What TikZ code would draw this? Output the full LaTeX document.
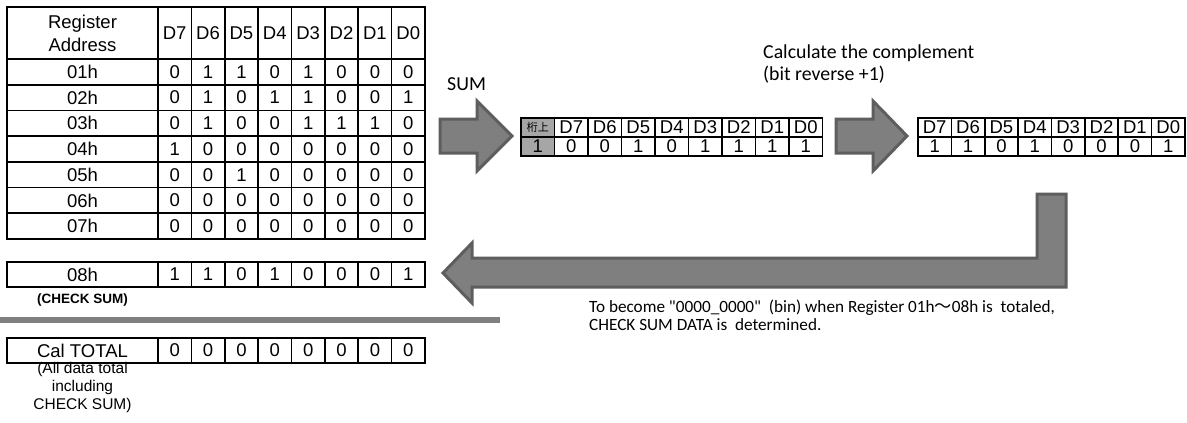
\documentclass[tikz,border=0pt]{standalone}
\usepackage{fontspec}
\newfontfamily\arial{Liberation Sans}
\newfontfamily\calib{Carlito}
\newfontfamily\cjk{Noto Sans CJK JP}
\definecolor{arrowfill}{HTML}{7F7F7F}
\definecolor{arrowedge}{HTML}{5E5E5E}
\definecolor{carry}{HTML}{A6A6A6}
\definecolor{sepline}{HTML}{808080}
\begin{document}
\begin{tikzpicture}[x=1pt,y=-1pt,
  cell/.style={draw, line width=1.7pt, inner sep=0pt, outer sep=0pt,
    font=\arial\fontsize{18.5}{23}\selectfont},
  bigarrow/.style={fill=arrowfill, draw=arrowedge, line width=3pt, line join=miter},
  note/.style={font=\calib\fontsize{19.8}{22}\selectfont, anchor=west, inner sep=0pt, align=left},
  small/.style={font=\arial\fontsize{15.5}{18}\selectfont, inner sep=0pt, align=center},
]
\useasboundingbox (0,0) rectangle (1187,423);

% ---------- left table ----------
\node[cell, minimum width=151pt, minimum height=52pt, align=center] (L-h-0) at (82.5,33) {Register\\Address};
\foreach \lab [count=\c] in {D7,D6,D5,D4,D3,D2,D1,D0}{
  \pgfmathsetmacro\xc{158+33.375*(\c-1)+16.6875}
  \node[cell, minimum width=33.375pt, minimum height=52pt] (L-h-\c) at (\xc,33) {\lab};
}
\foreach \a/\bits [count=\r] in {01h/{0,1,1,0,1,0,0,0},02h/{0,1,0,1,1,0,0,1},03h/{0,1,0,0,1,1,1,0},04h/{1,0,0,0,0,0,0,0},05h/{0,0,1,0,0,0,0,0},06h/{0,0,0,0,0,0,0,0},07h/{0,0,0,0,0,0,0,0}}{
  \pgfmathsetmacro\yc{59+25.714*(\r-1)+12.857}
  \node[cell, minimum width=151pt, minimum height=25.714pt] (L-\r-0) at (82.5,\yc) {\a};
  \foreach \b [count=\c] in \bits{
    \pgfmathsetmacro\xc{158+33.375*(\c-1)+16.6875}
    \node[cell, minimum width=33.375pt, minimum height=25.714pt] (L-\r-\c) at (\xc,\yc) {\b};
  }
}
% 08h row
\node[cell, minimum width=151pt, minimum height=25.5pt] (C-0) at (82.5,274.5) {08h};
\foreach \b [count=\c] in {1,1,0,1,0,0,0,1}{
  \pgfmathsetmacro\xc{158+33.375*(\c-1)+16.6875}
  \node[cell, minimum width=33.375pt, minimum height=25.5pt] (C-\c) at (\xc,274.5) {\b};
}
\node[font=\arial\bfseries\fontsize{13.5}{15}\selectfont, inner sep=0pt] (cslabel) at (82.5,300.5) {(CHECK SUM)};

% separator
\draw[sepline, line width=5.5pt] (0,320) -- (500,320);

% Cal TOTAL row
\node[cell, minimum width=151pt, minimum height=25.5pt] (T-0) at (82.5,350.5) {Cal TOTAL};
\foreach \b [count=\c] in {0,0,0,0,0,0,0,0}{
  \pgfmathsetmacro\xc{158+33.375*(\c-1)+16.6875}
  \node[cell, minimum width=33.375pt, minimum height=25.5pt] (T-\c) at (\xc,350.5) {\b};
}
\node[small] (tlabel) at (82.5,387) {(All data total\\including\\CHECK SUM)};

% ---------- SUM arrow ----------
\draw[bigarrow] (440,119) -- (477,119) -- (477,101) -- (512,136) -- (477,171) -- (477,153) -- (440,153) -- cycle;
\node[note] (sumlab) at (447,84) {SUM};

% ---------- middle table ----------
\node[cell, fill=carry, minimum width=33.5pt, minimum height=19pt, font=\cjk\fontsize{11}{12}\selectfont] (M-h-0) at (537.75,127.5) {桁上};
\node[cell, fill=carry, minimum width=33.5pt, minimum height=19pt] (M-v-0) at (537.75,146.5) {1};
\foreach \lab/\b [count=\c] in {D7/0,D6/0,D5/1,D4/0,D3/1,D2/1,D1/1,D0/1}{
  \pgfmathsetmacro\xc{521+33.5*\c+16.75}
  \node[cell, minimum width=33.5pt, minimum height=19pt] (M-h-\c) at (\xc,127.5) {\lab};
  \node[cell, minimum width=33.5pt, minimum height=19pt] (M-v-\c) at (\xc,146.5) {\b};
}

% ---------- complement arrow ----------
\draw[bigarrow] (836,119) -- (873,119) -- (873,101) -- (907,136) -- (873,171) -- (873,153) -- (836,153) -- cycle;
\node[note] (calclab) at (763,64) {Calculate the complement\\(bit reverse +1)};

% ---------- right table ----------
\foreach \lab/\b [count=\c] in {D7/1,D6/1,D5/0,D4/1,D3/0,D2/0,D1/0,D0/1}{
  \pgfmathsetmacro\xc{918+33.375*(\c-1)+16.6875}
  \node[cell, minimum width=33.375pt, minimum height=19pt] (R-h-\c) at (\xc,127.5) {\lab};
  \node[cell, minimum width=33.375pt, minimum height=19pt] (R-v-\c) at (\xc,146.5) {\b};
}

% ---------- return arrow ----------
\draw[bigarrow] (443,273) -- (472,243) -- (472,258) -- (1037,258) -- (1037,194) -- (1066,194) -- (1066,287) -- (472,287) -- (472,303) -- cycle;
\node[note, font=\calib\fontsize{17.2}{18}\selectfont] (result) at (589,315.5) {To become "0000\_0000"\ \ (bin) when Register 01h{\cjk 〜}08h is\ \ totaled,\\CHECK SUM DATA is\ \ determined.};
\end{tikzpicture}
\end{document}
